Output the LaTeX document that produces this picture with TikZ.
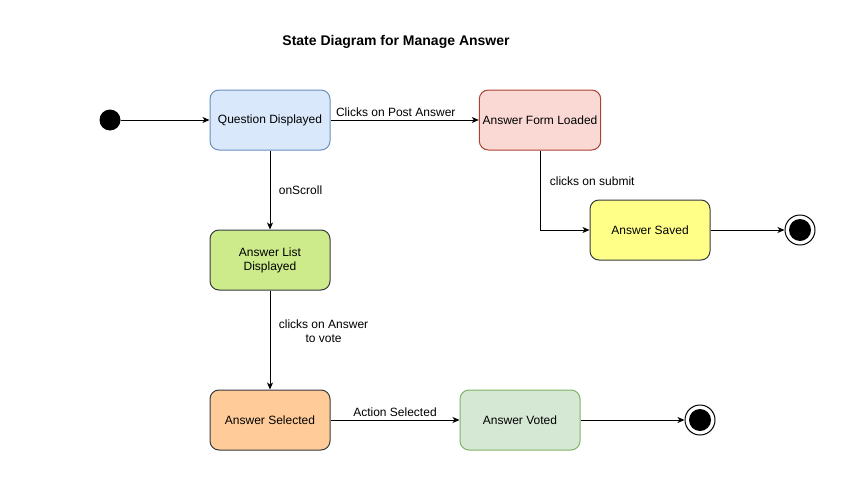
\documentclass[tikz,border=0pt]{standalone}
\usepackage{fontspec}
\setmainfont{Liberation Sans}
\usetikzlibrary{arrows.meta}
\definecolor{qfill}{HTML}{DAE8FC}
\definecolor{qline}{HTML}{6C8EBF}
\definecolor{ffill}{HTML}{FAD9D5}
\definecolor{fline}{HTML}{AE4132}
\definecolor{sfill}{HTML}{FFFF88}
\definecolor{lfill}{HTML}{CDEB8B}
\definecolor{afill}{HTML}{FFCC99}
\definecolor{vfill}{HTML}{D5E8D4}
\definecolor{vline}{HTML}{82B366}
\definecolor{dline}{HTML}{36393D}
\begin{document}
\begin{tikzpicture}[
		x={(1pt,0pt)},
		y={(0pt,-1pt)},
		state/.style={draw=dline, line width=1pt, rounded corners=9pt, minimum width=120pt, minimum height=60pt, align=center, font=\fontsize{12}{14}\selectfont},
		lbl/.style={font=\fontsize{12}{14}\selectfont, align=center},
		trans/.style={-{Stealth[length=7pt,width=6pt,inset=2pt]}, line width=1pt},
		endstate/.style={circle, draw=black, line width=1pt, fill=white, minimum size=30pt, inner sep=0pt},
	]
		\useasboundingbox (0,0) rectangle (850,503);
		\node[font=\bfseries\fontsize{14}{16}\selectfont] (title) at (396,42) {State Diagram for Manage Answer};
		
		\node[circle, fill=black, minimum size=21pt, inner sep=0pt] (start) at (110,120) {};
		\node[state, fill=qfill, draw=qline] (question) at (270,120) {Question Displayed};
		\node[state, fill=ffill, draw=fline] (formloaded) at (540,120) {Answer Form Loaded};
		\node[state, fill=sfill] (saved) at (650,230) {Answer Saved};
		\node[state, fill=lfill] (listed) at (270,260) {Answer List\\Displayed};
		\node[state, fill=afill] (selected) at (270,420) {Answer Selected};
		\node[state, fill=vfill, draw=vline] (voted) at (520,420) {Answer Voted};
		
		\foreach \n/\p in {endsaved/{800,230}, endvoted/{700,420}}{
			\node[endstate] (\n) at (\p) {};
			\fill (\n) circle (11pt);
		}
		
		\draw[trans] (start) -- (question);
		\draw[trans] (question) -- node[lbl, above, pos=0.44] {Clicks on Post Answer} (formloaded);
		\draw[trans] (question) -- node[lbl, right=5pt] {onScroll} (listed);
		\draw[trans] (formloaded) |- node[lbl, right=6pt, pos=0.19] {clicks on submit} (saved);
		\draw[trans] (saved) -- (endsaved);
		\draw[trans] (listed) -- node[lbl, right=5pt, pos=0.41] {clicks on Answer\\to vote} (selected);
		\draw[trans] (selected) -- node[lbl, above] {Action Selected} (voted);
		\draw[trans] (voted) -- (endvoted);
	\end{tikzpicture}
\end{document}
